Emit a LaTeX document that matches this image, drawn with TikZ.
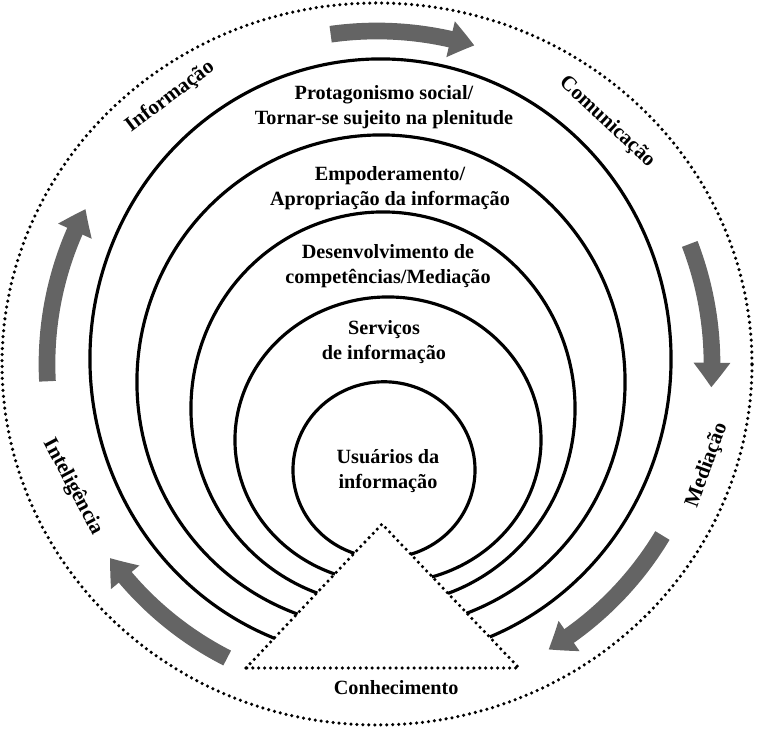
\documentclass[tikz,border=0pt]{standalone}
\usepackage{fontspec}
\setmainfont{Liberation Serif}
\usetikzlibrary{arrows.meta, bending, positioning, calc}
\definecolor{flowgray}{HTML}{646464}
\tikzset{
  % Concentric levels
  levelarc/.style={draw=black, line width=1.8pt},
  % Dotted outlines (cycle ring, knowledge base)
  dotline/.style={draw=black, line width=2pt, line cap=round,
    dash pattern=on 0pt off 3.4pt},
  % Cycle arrows
  cyclearrow/.style={draw=flowgray, line width=9.5pt,
    -{Triangle[length=14pt, width=20pt, bend]}},
  % Labels
  levellabel/.style={font=\fontsize{11.5}{14}\selectfont\bfseries,
    align=center, inner sep=1pt},
  ringlabel/.style={font=\fontsize{12}{14}\selectfont\bfseries, inner sep=1pt},
}

\begin{document}
\begin{tikzpicture}[x=0.02cm, y=0.02cm]
  \useasboundingbox (-377,-365) rectangle (381,364);

  % Outer cycle
  \draw[dotline] (0,0) ellipse [x radius=375, y radius=361];

  % Knowledge base
  \coordinate (apex) at (5,-160);
  \coordinate (baseL) at (-131,-304);
  \coordinate (baseR) at (142,-304);
  \draw[dotline] (baseL) -- (apex) -- (baseR) -- cycle;
  \node[levellabel, below=6pt of $(baseL)!0.55!(baseR)$] (conhec) {Conhecimento};

  % Levels, outer to inner
  \draw[levelarc] (3.5,5) ++(248.7:290.5 and 300)
    arc[start angle=248.7, end angle=-67.9, x radius=290.5, y radius=300];
  \draw[levelarc] (4,-18) ++(250:244 and 247)
    arc[start angle=250, end angle=-69.5, x radius=244, y radius=247];
  \draw[levelarc] (6,-44.5) ++(250:192 and 196.5)
    arc[start angle=250, end angle=-70.2, x radius=192, y radius=196.5];
  \draw[levelarc] (11,-76) ++(249.7:153 and 143)
    arc[start angle=249.7, end angle=-73.3, x radius=153, y radius=143];
  \draw[levelarc] (7,-106) ++(251:91 and 88.2)
    arc[start angle=251, end angle=-73, x radius=91, y radius=88.2];

  \node[levellabel] (protag) at (7,257)
    {Protagonismo social/\\Tornar-se sujeito na plenitude};
  \node[levellabel] (empod) at (13,176)
    {Empoderamento/\\Apropriação da informação};
  \node[levellabel] (desenv) at (11,98)
    {Desenvolvimento de\\competências/Mediação};
  \node[levellabel] (servicos) at (7,22)
    {Serviços\\de informação};
  \node[levellabel] (usuarios) at (11,-107)
    {Usuários da\\informação};

  % Cycle arrows (clockwise)
  \draw[cyclearrow] (98:333) arc[start angle=98, end angle=73, radius=333];
  \draw[cyclearrow] (21:335) arc[start angle=21, end angle=-4, radius=335];
  \draw[cyclearrow] (-31:333) arc[start angle=-31, end angle=-59, radius=333];
  \draw[cyclearrow] (243:330) arc[start angle=243, end angle=216, radius=330];
  \draw[cyclearrow] (183:330) arc[start angle=183, end angle=152, radius=330];

  % Cycle labels
  \node[ringlabel, rotate=37] (info) at (-207,267) {Informação};
  \node[ringlabel, rotate=-43] (comun) at (230,242) {Comunicação};
  \node[ringlabel, rotate=70] (media) at (330,-101) {Mediação};
  \node[ringlabel, rotate=-62] (intel) at (-304,-123) {Inteligência};
\end{tikzpicture}
\end{document}
